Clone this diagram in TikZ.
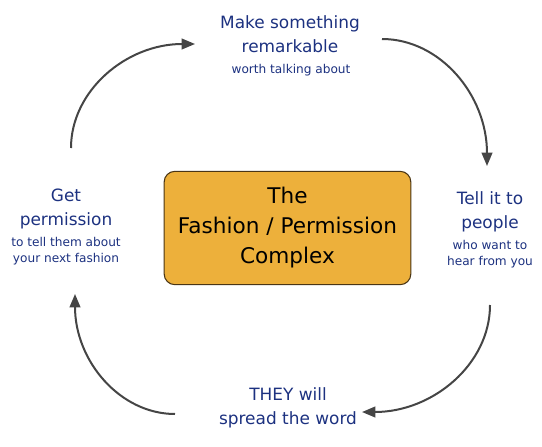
\documentclass[tikz,border=0pt]{standalone}
\usepackage{fontspec}
\setmainfont{DejaVu Sans}
\usetikzlibrary{arrows.meta}
\definecolor{steptext}{HTML}{1C3180}
\definecolor{boxfill}{HTML}{EDB03B}
\definecolor{boxline}{HTML}{4A3515}
\definecolor{cyclegray}{HTML}{454545}
\begin{document}
\begin{tikzpicture}[x=0.75pt, y=-0.75pt,
    head/.style={align=center, text=steptext, inner sep=0pt, font=\fontsize{12.7}{18}\selectfont},
    sub/.style={align=center, text=steptext, inner sep=0pt, font=\fontsize{9.1}{12}\selectfont},
    core/.style={draw=boxline, line width=0.8pt, fill=boxfill, rounded corners=8pt,
        minimum width=185pt, minimum height=85pt, align=center, inner sep=0pt,
        font=\fontsize{16.2}{22.5}\selectfont},
    cycle/.style={draw=cyclegray, line width=1.5pt, -{Triangle[length=10pt, width=8pt]}}]
    \useasboundingbox (0,0) rectangle (542,446);

    % centre box
    \node[core] (complex) at (287.5,228) {The\\Fashion / Permission\\Complex};

    % the four steps
    \node[head] (make) at (290,34) {Make something\\remarkable};
    \node[sub] (makesub) at (291,70) {worth talking about};
    \node[head] (tell) at (490,212) {Tell it to\\people};
    \node[sub] (tellsub) at (490,254) {who want to\\hear from you};
    \node[head] (spread) at (288,407.5) {THEY will\\spread the word};
    \node[head] (get) at (66,209) {Get\\permission};
    \node[sub] (getsub) at (66,251) {to tell them about\\your next fashion};

    % arrow ends
    \coordinate (tlstart) at (71,148);
    \coordinate (tlend) at (195,44);
    \coordinate (trstart) at (382,39);
    \coordinate (trend) at (487,166);
    \coordinate (brstart) at (490,305);
    \coordinate (brend) at (362,412);
    \coordinate (blstart) at (175,414);
    \coordinate (blend) at (75,294);

    \draw[cycle] (tlstart) .. controls (71,91) and (126,44) .. (tlend);
    \draw[cycle] (trstart) .. controls (440,39) and (487,95) .. (trend);
    \draw[cycle] (brstart) .. controls (490,364) and (433,412) .. (brend);
    \draw[cycle] (blstart) .. controls (120,414) and (75,361) .. (blend);
\end{tikzpicture}
\end{document}
